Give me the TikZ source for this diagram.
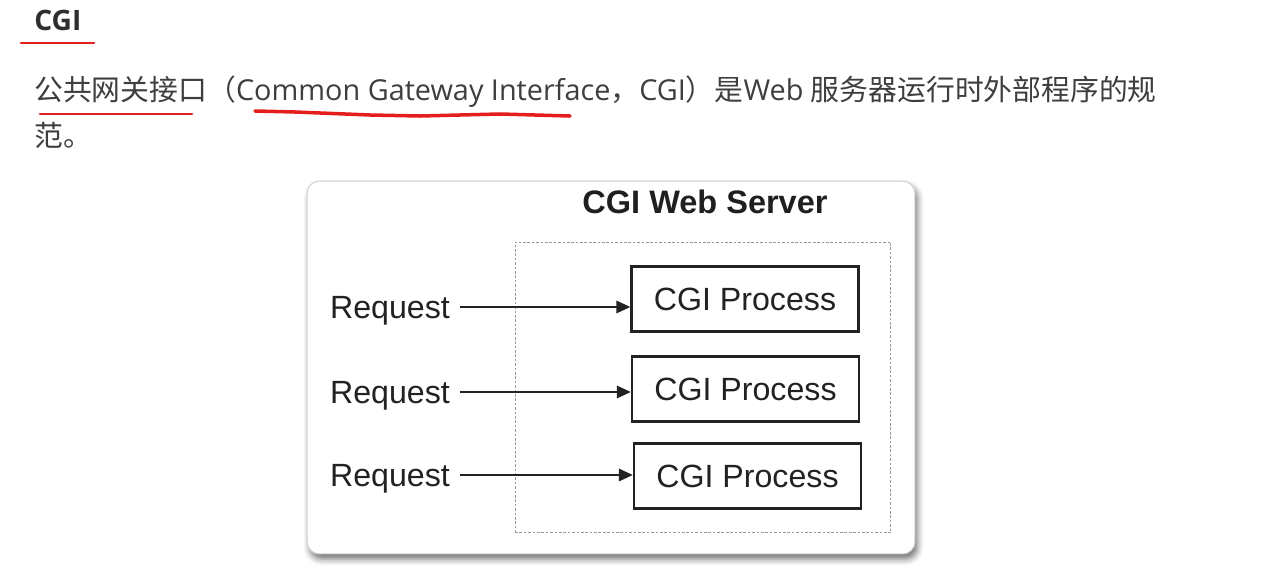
\documentclass[tikz,border=0pt]{standalone}
\usepackage{fontspec}
\setmainfont{Open Sans}
\newfontfamily\cjk{Noto Sans CJK SC}
\newfontfamily\diagfont{Liberation Sans}
\usetikzlibrary{
    arrows.meta,
    shadows.blur
}
\definecolor{inkRed}{RGB}{228,30,28}
\definecolor{textGray}{RGB}{62,62,62}
\definecolor{boxGray}{RGB}{208,208,208}
\definecolor{lineDark}{RGB}{34,34,34}
\tikzset{
  heading/.style   = {anchor=base west, inner sep=0pt, text=black!82,
                      font=\bfseries\fontsize{16}{19}\selectfont},
  bodytext/.style  = {anchor=base west, inner sep=0pt, text=textGray,
                      font=\fontsize{16.4}{20}\selectfont},
  redmark/.style   = {inkRed, line width=1.6pt, line cap=round},
  serverbox/.style = {draw=boxGray, fill=white, rounded corners=7pt,
                      line width=0.6pt, minimum width=12.16cm, minimum height=7.46cm,
                      blur shadow={shadow xshift=1.5pt, shadow yshift=-3pt,
                                   shadow blur radius=3.5pt, shadow opacity=55}},
  poolbox/.style   = {draw=gray!80, line width=0.55pt, dash pattern=on 1.5pt off 1pt,
                      minimum width=7.52cm, minimum height=5.82cm},
  procbox/.style   = {draw=lineDark, line width=1.3pt, minimum width=4.54cm,
                      minimum height=1.3cm, text=lineDark,
                      font=\diagfont\fontsize{18.3}{22}\selectfont},
  reqtext/.style   = {inner sep=0pt, text depth=0pt, text=lineDark,
                      font=\diagfont\fontsize{18.3}{22}\selectfont},
  srvtitle/.style  = {anchor=base, inner sep=0pt, text=black!88,
                      font=\diagfont\bfseries\fontsize{18.5}{22}\selectfont},
  reqarrow/.style  = {-{Triangle[length=8pt,width=7pt]}, line width=1.3pt,
                      lineDark, shorten <=5.5pt}
}

\begin{document}
\begin{tikzpicture}[x=0.02cm, y=-0.02cm]
    \useasboundingbox (0,0) rectangle (1285,578);

    % heading and text
    \node[heading] (head) at (34,31) {CGI};
    \draw[redmark] (21,43) -- (94,43);
    \node[bodytext] (line1) at (34,100) {{\cjk 公共网关接口（}Common Gateway Interface{\cjk ，}CGI{\cjk ）是}Web {\cjk 服务器运行时外部程序的规}};
    \node[bodytext] (line2) at (34,146) {\cjk 范。};
    \draw[redmark] (40,114) -- (192,114);
    \draw[redmark, line width=2pt] (255,111) -- (295,112) -- (370,115) -- (420,116)
        -- (500,114) -- (570,116);

    % server
    \node[serverbox] (server) at (611,367.5) {};
    \node[srvtitle] (srvname) at (705,213) {CGI Web Server};
    \node[poolbox] (pool) at (703,387.5) {};

    \node[procbox] (proc1) at (745,299) {CGI Process};
    \node[procbox] (proc2) at (745.5,389) {CGI Process};
    \node[procbox] (proc3) at (747.5,476) {CGI Process};

    \node[reqtext] (req1) at (390,307) {Request};
    \node[reqtext] (req2) at (390,392) {Request};
    \node[reqtext] (req3) at (390,475) {Request};

    \draw[reqarrow] (req1.east) -- (req1.east -| proc1.west);
    \draw[reqarrow] (req2.east) -- (req2.east -| proc2.west);
    \draw[reqarrow] (req3.east) -- (req3.east -| proc3.west);
\end{tikzpicture}
\end{document}
